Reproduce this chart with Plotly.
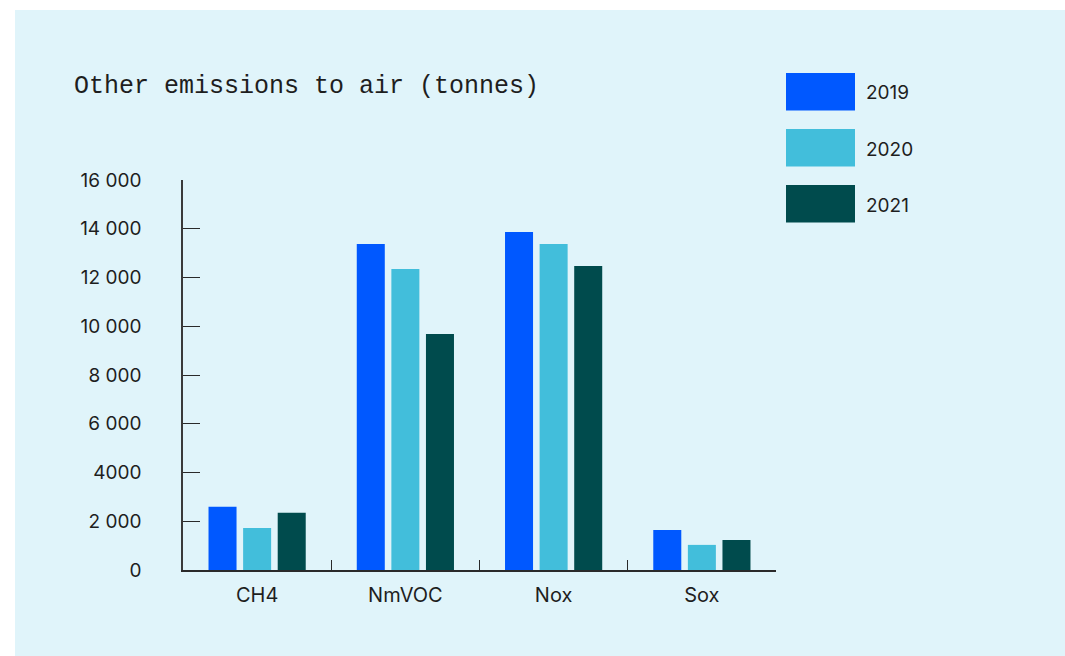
import plotly.graph_objects as go

# Emissions data (tonnes)
categories = ["CH4", "NmVOC", "Nox", "Sox"]
years = ["2019", "2020", "2021"]
values_2019 = [2600, 13370, 13870, 1640]
values_2020 = [1720, 12350, 13370, 1030]
values_2021 = [2350, 9680, 12470, 1230]
series = [values_2019, values_2020, values_2021]
colors = ["#0058FF", "#42BEDB", "#004B4D"]

tick_vals = [0, 2000, 4000, 6000, 8000, 10000, 12000, 14000, 16000]
tick_text = ["0", "2 000", "4000", "6 000", "8 000", "10 000", "12 000", "14 000", "16 000"]

W, H = 1065, 656
L, R, T, B = 183, 289, 180, 86
PW, PH = W - L - R, H - T - B


def px_x(x):
    return (x - L) / PW


def px_y(y):
    return (H - B - y) / PH


PANEL = "#E0F4FA"
TEXT = "#1E1E1E"

fig = go.Figure()
for name, vals, col in zip(years, series, colors):
    fig.add_trace(go.Bar(x=categories, y=vals, name=name,
                         marker=dict(color=col, line=dict(width=0))))

shapes = [dict(type="rect", xref="paper", yref="paper",
               x0=px_x(15), x1=px_x(W + 5), y0=px_y(10), y1=px_y(H + 5),
               fillcolor=PANEL, line=dict(width=0), layer="below")]
annotations = []
for i, (name, col) in enumerate(zip(years, colors)):
    top = 73 + i * 56
    shapes.append(dict(type="rect", xref="paper", yref="paper",
                       x0=px_x(786), x1=px_x(855), y0=px_y(top), y1=px_y(top + 37.5),
                       fillcolor=col, line=dict(width=0)))
    annotations.append(dict(x=px_x(864), y=px_y(top + 20), xref="paper", yref="paper",
                            text=name, showarrow=False, xanchor="left", yanchor="middle",
                            font=dict(family="Inter", size=19, color=TEXT)))

fig.update_layout(
    width=W, height=H,
    margin=dict(l=L, r=R, t=T, b=B),
    paper_bgcolor="white",
    plot_bgcolor="rgba(0,0,0,0)",
    showlegend=False,
    barmode="group",
    bargap=0.30,
    bargroupgap=0.19,
    shapes=shapes,
    annotations=annotations,
    title=dict(text="Other emissions to air (tonnes)",
               x=74 / W, xanchor="left", xref="container",
               y=1 - 84 / H, yanchor="middle", yref="container",
               font=dict(family="Liberation Mono", size=25, color=TEXT)),
)

fig.update_xaxes(
    type="category", range=[-0.5, 3.5],
    showline=True, linecolor="#2a2a2a", linewidth=1.5,
    ticks="inside", tickson="boundaries", ticklen=10, tickwidth=1.3, tickcolor="#2a2a2a",
    showgrid=False, zeroline=False,
    tickfont=dict(family="Inter", size=20, color=TEXT),
    ticklabelstandoff=6,
)
fig.update_yaxes(
    range=[0, 16000],
    tickvals=tick_vals, ticktext=tick_text,
    showline=True, linecolor="#3a3a3a", linewidth=1.5,
    ticks="inside", ticklen=17, tickwidth=1.3, tickcolor="#2a2a2a",
    showgrid=False, zeroline=False,
    tickfont=dict(family="Inter", size=19, color=TEXT),
    ticklabelstandoff=36,
)

fig.write_html("out.html")
